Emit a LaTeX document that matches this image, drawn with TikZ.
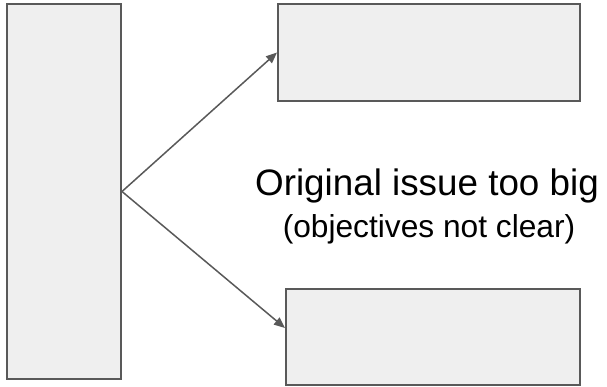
\documentclass[tikz,border=0pt]{standalone}
\usepackage{fontspec}
\setmainfont{Liberation Sans}
\usetikzlibrary{arrows.meta}
\definecolor{boxfill}{HTML}{EFEFEF}
\definecolor{boxline}{HTML}{595959}
\tikzset{
  block/.style={draw=boxline,fill=boxfill,line width=2pt,inner sep=0pt},
  link/.style={draw=boxline,line width=1.5pt,-{Triangle[length=11pt,width=9pt]}}
}
\begin{document}
\begin{tikzpicture}[x=1pt,y=-1pt]
  \useasboundingbox (0,0) rectangle (607,386);
  \node[block,minimum width=114pt,minimum height=375pt] (B-left) at (64,191.5) {};
  \node[block,minimum width=302pt,minimum height=97pt] (B-top) at (429,52.5) {};
  \node[block,minimum width=294pt,minimum height=96pt] (B-bot) at (433,337) {};
  
  \node[anchor=base,inner sep=0pt,font=\fontsize{36.8}{40}\selectfont] (T-1) at (427,195) {Original issue too big};
  \node[anchor=base,inner sep=0pt,font=\fontsize{31.7}{34}\selectfont] (T-2) at (429,237) {(objectives not clear)};
  
  \path (B-left.east) edge[link] (B-top.west);
  \path (B-left.east) edge[link] ([yshift=9pt]B-bot.west);
\end{tikzpicture}
\end{document}
